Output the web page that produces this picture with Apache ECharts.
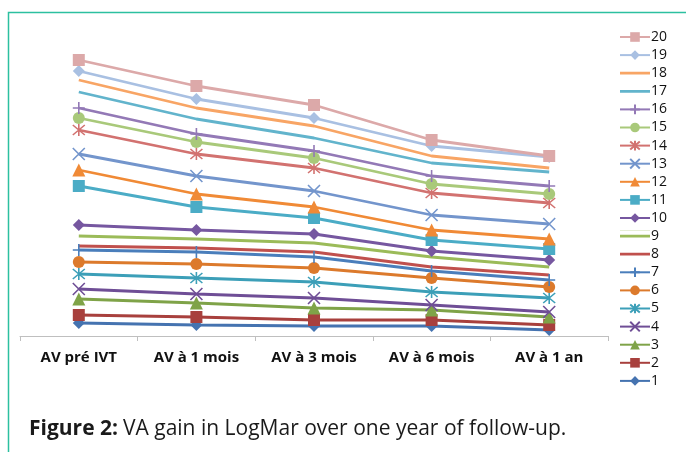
<!DOCTYPE html>
<html>
<head>
<meta charset="utf-8">
<script src="https://cdn.jsdelivr.net/npm/echarts@6/dist/echarts.min.js"></script>
<style>
html,body{margin:0;padding:0;background:#fff;}
#main{width:686px;height:452px;}
</style>
</head>
<body>
<div id="main"></div>
<script>
const categories = ['AV pré IVT', 'AV à 1 mois', 'AV à 3 mois', 'AV à 6 mois', 'AV à 1 an'];
const seriesNames = ['1','2','3','4','5','6','7','8','9','10','11','12','13','14','15','16','17','18','19','20'];
const s1  = [0.065, 0.055, 0.05, 0.05, 0.03];
const s2  = [0.105, 0.095, 0.08, 0.08, 0.055];
const s3  = [0.185, 0.165, 0.14, 0.13, 0.095];
const s4  = [0.235, 0.21, 0.19, 0.155, 0.12];
const s5  = [0.31, 0.29, 0.27, 0.22, 0.19];
const s6  = [0.37, 0.36, 0.34, 0.29, 0.245];
const s7  = [0.43, 0.42, 0.395, 0.325, 0.28];
const s8  = [0.45, 0.44, 0.42, 0.345, 0.305];
const s9  = [0.50, 0.485, 0.465, 0.395, 0.345];
const s10 = [0.555, 0.53, 0.51, 0.425, 0.38];
const s11 = [0.75, 0.645, 0.59, 0.48, 0.435];
const s12 = [0.83, 0.71, 0.645, 0.53, 0.485];
const s13 = [0.91, 0.80, 0.725, 0.605, 0.56];
const s14 = [1.03, 0.91, 0.84, 0.715, 0.665];
const s15 = [1.09, 0.97, 0.89, 0.76, 0.71];
const s16 = [1.14, 1.01, 0.925, 0.80, 0.75];
const s17 = [1.22, 1.085, 0.99, 0.865, 0.82];
const s18 = [1.28, 1.14, 1.05, 0.90, 0.84];
const s19 = [1.325, 1.185, 1.09, 0.95, 0.895];
const s20 = [1.38, 1.25, 1.155, 0.98, 0.90];
const allValues = [s1,s2,s3,s4,s5,s6,s7,s8,s9,s10,s11,s12,s13,s14,s15,s16,s17,s18,s19,s20];

const colors = ['#4573B0','#A8403D','#7FA348','#6F4E96','#3C9FB8','#DC7A2C',
                '#4A7EBB','#C0504D','#9BBB59','#7657A0','#4BACC6','#F08A36',
                '#7395CC','#D27270','#A9C97A','#9379B6','#62B4CC','#F8A565',
                '#A9C0E2','#DCA9A9'];

const SYM = {
  diamond: 'diamond', rect: 'rect', triangle: 'triangle', circle: 'circle',
  x: 'path://M0,0L10,10M10,0L0,10',
  star: 'path://M0,0L10,10M10,0L0,10M5,-1L5,11',
  plus: 'path://M5,0L5,10M0,5L10,5',
  dash: 'none'
};
const symbolTypes = ['diamond','rect','triangle','x','star','circle','plus','dash','dash','diamond',
                     'rect','triangle','x','star','circle','plus','dash','dash','diamond','rect'];

const lineOnlyIcon = 'path://M0,0H30V0.05H0Z M0,4.6H30V7.4H0Z M0,11.95H30V12H0Z';

const series = allValues.map((vals, i) => {
  const t = symbolTypes[i];
  const c = colors[i];
  const stroked = (t === 'x' || t === 'star' || t === 'plus');
  let size = 12;
  if (t === 'triangle') size = 13;
  return {
    name: seriesNames[i],
    type: 'line',
    data: vals,
    symbol: SYM[t],
    symbolSize: size,
    showSymbol: t !== 'dash',
    animation: false,
    lineStyle: { color: c, width: 2.8 },
    itemStyle: stroked ? { color: c, borderColor: c, borderWidth: 1.6 } : { color: c, borderWidth: 0 },
    emphasis: { disabled: true }
  };
});

const legendData = seriesNames.slice().reverse().map(n => {
  const idx = seriesNames.indexOf(n);
  return symbolTypes[idx] === 'dash' ? { name: n, icon: lineOnlyIcon } : { name: n };
});

const chart = echarts.init(document.getElementById('main'));
chart.setOption({
  animation: false,
  backgroundColor: '#fff',
  color: colors,
  grid: { left: 20, right: 78, top: 56, bottom: 116, containLabel: false },
  xAxis: {
    type: 'category',
    data: categories,
    boundaryGap: true,
    axisLine: { lineStyle: { color: '#BFBFBF', width: 1 } },
    axisTick: { show: true, length: 5, lineStyle: { color: '#BFBFBF' } },
    axisLabel: { color: '#111', fontFamily: 'Open Sans', fontWeight: 'bold', fontSize: 15, margin: 14 }
  },
  yAxis: { type: 'value', min: 0, max: 1.4, show: false, splitLine: { show: false } },
  legend: {
    orient: 'vertical',
    left: 614,
    top: 25,
    data: legendData,
    itemWidth: 30,
    itemHeight: 12,
    itemGap: 4.1,
    textStyle: { color: '#111', fontFamily: 'Open Sans', fontSize: 14, lineHeight: 12, padding: [0,0,0,-4] },
    selectedMode: false
  },
  title: {
    text: '{b|Figure 2:} {n|VA gain in LogMar over one year of follow-up.}',
    left: 24,
    top: 414,
    textStyle: {
      rich: {
        b: { fontFamily: 'Open Sans', fontWeight: 'bold', fontSize: 21, color: '#1a1a1a' },
        n: { fontFamily: 'Open Sans', fontWeight: 'normal', fontSize: 21, color: '#1a1a1a' }
      }
    }
  },
  graphic: [{
    type: 'rect',
    shape: { x: 8.5, y: 12.5, width: 800, height: 600 },
    style: { fill: 'none', stroke: '#2CC0A0', lineWidth: 1.5 },
    silent: true
  }],
  series: series
});
</script>
</body>
</html>
